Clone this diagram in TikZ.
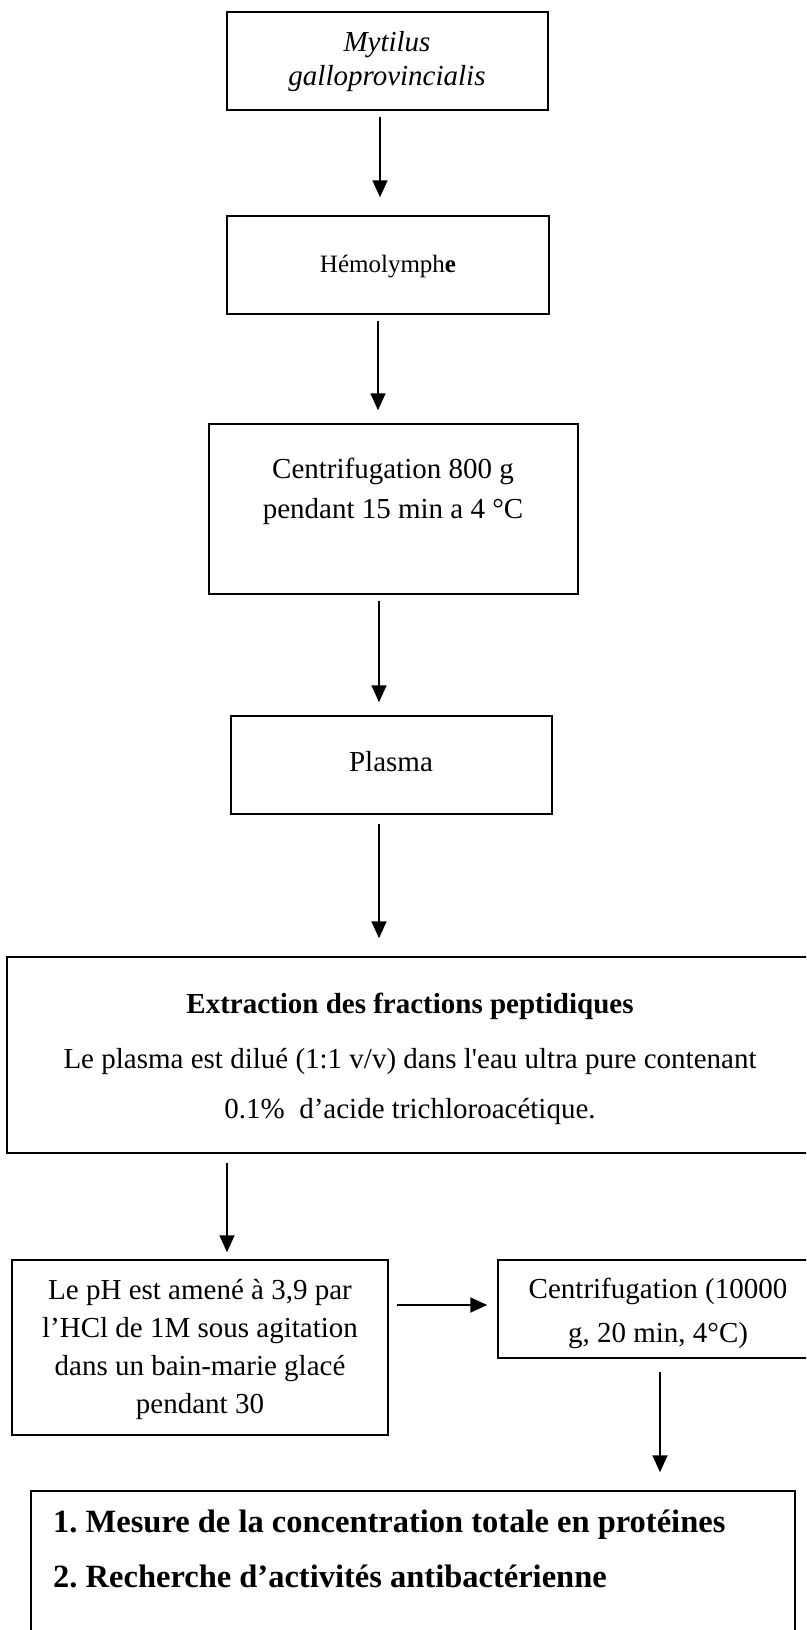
\documentclass[tikz,border=0pt]{standalone}
\usepackage{fontspec}
\setmainfont{Liberation Serif}
\newfontfamily\rawfont{Liberation Serif}[Ligatures=TeXOff]
\usetikzlibrary{arrows.meta,calc}
\frenchspacing
\begin{document}
\begin{tikzpicture}[x=1pt,y=-1pt,
  box/.style={draw,line width=1.5pt,inner sep=0pt},
  txt/.style={anchor=base,inner sep=0pt,font=\fontsize{29}{34}\selectfont},
  small/.style={anchor=base,inner sep=0pt,font=\fontsize{25}{30}\selectfont},
  big/.style={anchor=base west,inner sep=0pt,font=\fontsize{32.5}{38}\selectfont\bfseries},
  arr/.style={-{Triangle[width=15pt,length=17pt]},line width=1.8pt}]
\clip (0,0) rectangle (806,1630);
\fill[white] (0,0) rectangle (806,1630);
% boxes
\node[box,minimum width=321pt,minimum height=98pt] (n1) at (387.5,61) {};
\node[box,minimum width=322pt,minimum height=98pt] (n2) at (388,265) {};
\node[box,minimum width=369pt,minimum height=170pt] (n3) at (393.5,509) {};
\node[box,minimum width=321pt,minimum height=98pt] (n4) at (391.5,765) {};
\node[box,minimum width=806pt,minimum height=196pt] (n5) at (410,1055) {};
\node[box,minimum width=376pt,minimum height=175pt] (n6) at (200,1347.5) {};
\node[box,minimum width=332pt,minimum height=98pt] (n7) at (664,1309) {};
\node[box,minimum width=764pt,minimum height=189pt] (n8) at (413,1585.5) {};
% texts
\node[txt,font=\fontsize{29}{34}\selectfont\itshape] (t1a) at (387,51) {Mytilus};
\node[txt,font=\fontsize{29}{34}\selectfont\itshape] (t1b) at (387,85) {galloprovincialis};
\node[small] (t2) at (388,272) {Hémolymph\textbf{e}};
\node[txt] (t3a) at (393,478) {Centrifugation 800 g};
\node[txt] (t3b) at (393,518) {pendant 15 min a 4 °C};
\node[txt] (t4) at (391,771) {Plasma};
\node[txt,font=\fontsize{29}{34}\selectfont\bfseries] (t5a) at (410,1013) {Extraction des fractions peptidiques};
\node[txt] (t5b) at (410,1068) {Le plasma est dilué (1:1 v/v) dans l{\rawfont '}eau ultra pure contenant};
\node[txt] (t5c) at (410,1118) {0.1\%\ \ d’acide trichloroacétique.};
\node[txt] (t6a) at (200,1299) {Le pH est amené à 3,9 par};
\node[txt] (t6b) at (200,1337) {l’HCl de 1M sous agitation};
\node[txt] (t6c) at (200,1375) {dans un bain-marie glacé};
\node[txt] (t6d) at (200,1413) {pendant 30};
\node[txt] (t7a) at (658,1298) {Centrifugation (10000};
\node[txt] (t7b) at (658,1342) {g, 20 min, 4°C)};
\node[big] (t8a) at (53,1532) {1. Mesure de la concentration totale en protéines};
\node[big] (t8b) at (53,1587) {2. Recherche d’activités antibactérienne};
% arrow positions
\coordinate (c1) at (380,0);
\coordinate (c2) at (378,0);
\coordinate (c3) at (379,0);
\coordinate (c4) at (379,0);
\coordinate (c5) at (227,0);
\coordinate (c6) at (0,1305);
\coordinate (c7) at (660,0);
\draw[arr] ($(n1.south -| c1)+(0,6)$) -- ($(n2.north -| c1)+(0,-18)$);
\draw[arr] ($(n2.south -| c2)+(0,6)$) -- ($(n3.north -| c2)+(0,-13)$);
\draw[arr] ($(n3.south -| c3)+(0,6)$) -- ($(n4.north -| c3)+(0,-13)$);
\draw[arr] ($(n4.south -| c4)+(0,9)$) -- ($(n5.north -| c4)+(0,-18)$);
\draw[arr] ($(n5.south -| c5)+(0,9)$) -- ($(n6.north -| c5)+(0,-7)$);
\draw[arr] ($(n6.east |- c6)+(8,0)$) -- ($(n7.west |- c6)+(-10,0)$);
\draw[arr] ($(n7.south -| c7)+(0,13)$) -- ($(n8.north -| c7)+(0,-18)$);
\end{tikzpicture}
\end{document}
